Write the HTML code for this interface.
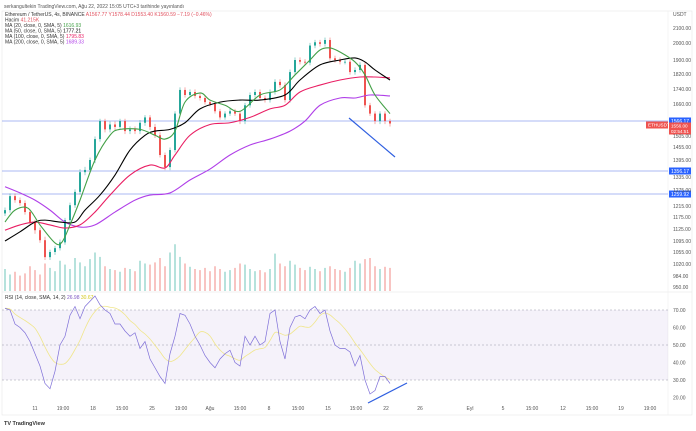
<!DOCTYPE html>
<html><head><meta charset="utf-8">
<style>
html,body{margin:0;padding:0;background:#fff;width:696px;height:431px;overflow:hidden;font-family:"Liberation Sans",sans-serif}
svg text{font-family:"Liberation Sans",sans-serif}
</style></head>
<body>
<svg id="c" width="696" height="431" viewBox="0 0 696 431" xmlns="http://www.w3.org/2000/svg">
<text x="4" y="8" font-size="5" fill="#555">serkangultekin TradingView.com, Ağu 22, 2022 15:05 UTC+3 tarihinde yayınlandı</text>
<rect x="2" y="11" width="690" height="404" fill="none" stroke="#e6e6e6" stroke-width="0.6"/>
<line x1="668" y1="11" x2="668" y2="415" stroke="#eee" stroke-width="0.6"/>
<line x1="2" y1="292" x2="692" y2="292" stroke="#e6e6e6" stroke-width="0.6"/>
<g id="grid"></g>
<g id="rsiPane"></g>
<g id="vol"></g>
<g id="hlines"></g>
<g id="candles"></g>
<g id="mas"></g>
<g id="rsi"></g>
<g id="axes"></g>
<line x1="349" y1="118" x2="395" y2="157" stroke="#2f5fe0" stroke-width="1.2"/>
<line x1="368" y1="403" x2="407" y2="383" stroke="#2f5fe0" stroke-width="1.2"/>
<g font-size="5">
<text x="5" y="16" fill="#333">Ethereum / TetherUS, 4s, BINANCE <tspan fill="#e0505e">A1567.77 Y1578.44 D1553.40 K1560.59 −7.19 (−0.46%)</tspan></text>
<text x="5" y="21.5" fill="#333">Hacim <tspan fill="#e0505e">41.215K</tspan></text>
<text x="5" y="27" fill="#333">MA (20, close, 0, SMA, 5) <tspan fill="#43a047">1616.93</tspan></text>
<text x="5" y="32.5" fill="#333">MA (50, close, 0, SMA, 5) <tspan fill="#000">1777.21</tspan></text>
<text x="5" y="38" fill="#333">MA (100, close, 0, SMA, 5) <tspan fill="#e91e63">1795.83</tspan></text>
<text x="5" y="43.5" fill="#333">MA (200, close, 0, SMA, 5) <tspan fill="#b03fe8">1689.33</tspan></text>
<text x="5" y="299" fill="#333">RSI (14, close, SMA, 14, 2) <tspan fill="#7e57c2">26.98</tspan> <tspan fill="#d4c81a">30.67</tspan></text>
</g>
<text x="673" y="16" font-size="5" fill="#555">USDT</text>
<text x="4" y="425" font-size="5.5" fill="#333" font-weight="bold">TV TradingView</text>
</svg>
<script>
// ---- data ----
const closes=[1200,1252,1237,1226,1193,1154,1122,1097,1040,1055,1069,1090,1162,1218,1268,1352,1360,1395,1491,1566,1532,1552,1542,1566,1525,1532,1525,1559,1586,1542,1508,1418,1370,1441,1607,1735,1708,1724,1703,1692,1670,1660,1620,1586,1607,1620,1607,1566,1653,1708,1724,1692,1681,1724,1778,1761,1681,1831,1900,1890,1885,1985,2005,1995,2020,1910,1900,1890,1890,1831,1843,1872,1653,1607,1566,1607,1566,1556];
const volumes=[40,30,35,28,32,45,38,30,50,42,36,55,48,40,60,52,45,58,70,62,45,40,38,35,42,40,36,55,50,48,52,60,45,70,85,62,50,44,40,38,42,36,45,40,35,38,42,50,48,40,36,38,34,40,68,50,45,55,48,42,38,44,40,36,42,45,40,38,35,42,55,50,58,60,45,40,44,42];
const rsiVals=[71,70,62,60,57,52,45,38,28,25,35,50,55,67,72,65,72,75,78,73,70,68,62,62,58,55,57,48,52,42,37,32,28,45,55,68,67,62,55,50,44,40,37,42,45,47,40,38,55,50,55,50,52,68,70,52,42,60,66,67,65,70,72,68,70,58,50,48,48,46,38,44,30,22,24,32,32,28];
const ma20T=[0,2,4.6,7,10,11.4,13,15,18,21,23,27,30,32,34,36,39,41,44,47,51,55,58,61,63,65,67,70,72,74,77];
const ma20V=[1154,1200,1207,1142,1088,1091,1142,1237,1395,1508,1532,1532,1508,1491,1525,1670,1719,1681,1653,1620,1708,1735,1815,1900,1959,1971,1947,1889,1815,1708,1607];
const ma50T=[0,3,6,8,11,14,16,19,22,25,28,30,33,36,39,43,47,51,56,59,63,67,70,72,74,77];
const ma50V=[1095,1118,1154,1162,1154,1154,1200,1256,1342,1441,1508,1525,1532,1559,1633,1670,1681,1681,1708,1788,1872,1900,1912,1889,1843,1788];
const ma100T=[0,3,6,9,12,15,18,21,25,29,32,34,37,41,45,49,53,56,59,63,67,71,74,77];
const ma100V=[1122,1142,1154,1142,1129,1142,1193,1256,1342,1377,1367,1418,1508,1552,1559,1586,1633,1653,1724,1761,1788,1804,1804,1799];
const ma200T=[0,3,6,9,12,15,18,22,26,29,33,37,41,45,49,53,57,60,63,67,70,73,77];
const ma200V=[1290,1264,1237,1200,1154,1133,1142,1193,1237,1256,1264,1321,1363,1418,1464,1491,1525,1566,1653,1692,1692,1708,1703];
const priceTicks=[2100,2000,1900,1820,1740,1660,1505,1455,1395,1335,1275,1215,1175,1125,1095,1055,1020,984,950];
const tickY=[28,43,60,74,89,104,136,147,160,177,190,206,217,229,241,252,264,276,287];
const hLevels=[1566.17,1356.17,1259.92];
const rsiTicks=[70,60,50,40,30,20];
const timeLabels=["11","19:00","18","15:00","25","19:00","Ağu","15:00","8","15:00","15","15:00","22","26","Eyl","5","15:00","12","15:00","19","19:00"];
const timeIdx=[6,11.6,17.6,23.4,29.4,35.2,41,47,52.8,58.6,64.6,70.2,76.2,83,93,99.6,105.4,111.6,117.4,123.2,129];
// ---- scales ----
const allP=[2100,2000,1900,1820,1740,1660,1566.17,1505,1455,1395,1335,1275,1215,1175,1125,1095,1055,1020,984,950];
const allY=[28,43,60,74,89,104,121,136,147,160,177,190,206,217,229,241,252,264,276,287];
function y(p){for(let i=0;i<allP.length-1;i++){if(p<=allP[i]&&p>=allP[i+1]){const f=(allP[i]-p)/(allP[i]-allP[i+1]);return allY[i]+f*(allY[i+1]-allY[i]);}}
 if(p>allP[0])return allY[0]-(p-allP[0])*0.15;return allY[allY.length-1]+(allP[allP.length-1]-p)*0.3;}
function x(t){return 5+t*5;}
function ry(v){return 345-(v-50)*1.75;}
const NS="http://www.w3.org/2000/svg";
function mk(tag,attrs,parent){const e=document.createElementNS(NS,tag);for(const k in attrs)e.setAttribute(k,attrs[k]);document.getElementById(parent).appendChild(e);return e;}
const up="#26a69a",dn="#ef5350";
let r=mk('rect',{x:2,y:ry(70),width:666,height:ry(30)-ry(70),fill:"#7e57c2","fill-opacity":"0.08"},'rsiPane');


[70,50,30].forEach(v=>{const l=mk('line',{x1:2,x2:668,y1:ry(v),y2:ry(v),stroke:"#9a9aa8","stroke-width":0.5,"stroke-dasharray":"2,2"},'rsiPane');

});
rsiTicks.forEach(v=>{const t=mk('text',{x:673,y:ry(v)+2,"font-size":5,fill:"#555"},'axes');t.textContent=v.toFixed(2);

});
priceTicks.forEach((p,i)=>{const t=mk('text',{x:673,y:tickY[i]+2,"font-size":5,fill:"#555"},'axes');t.textContent=p.toFixed(2);

});
timeLabels.forEach((s,i)=>{const t=mk('text',{x:x(timeIdx[i]),y:410,"font-size":5,fill:"#555","text-anchor":"middle"},'axes');t.textContent=s;

});
hLevels.forEach(p=>{const l=mk('line',{x1:2,x2:668,y1:y(p),y2:y(p),stroke:"#8fa3ef","stroke-width":0.8},'hlines');


mk('rect',{x:669,y:y(p)-3.5,width:22,height:7,fill:"#2962ff"},'hlines');
const t=mk('text',{x:671,y:y(p)+1.8,"font-size":5,fill:"#fff"},'hlines');t.textContent=p.toFixed(2);

});
const lp=closes[closes.length-1];
mk('rect',{x:646,y:y(lp)-2,width:22,height:7,fill:"#ef5350"},'hlines');
let tt=mk('text',{x:648,y:y(lp)+3,"font-size":4.6,fill:"#fff"},'hlines');tt.textContent="ETHUSDT";


mk('rect',{x:669,y:y(lp)-1,width:22,height:12,fill:"#ef5350"},'hlines');
tt=mk('text',{x:671,y:y(lp)+4,"font-size":4.6,fill:"#fff"},'hlines');tt.textContent=lp.toFixed(2);


tt=mk('text',{x:671,y:y(lp)+9.5,"font-size":4.6,fill:"#fff"},'hlines');tt.textContent="02:54:51";


closes.forEach((c,i)=>{const o=i?closes[i-1]:c*0.99;const hi=Math.max(o,c)*1.008,lo=Math.min(o,c)*0.992;const col=c>=o?up:dn;
const w=mk('line',{x1:x(i),x2:x(i),y1:y(hi),y2:y(lo),stroke:col,"stroke-width":0.5},'candles');


const b=mk('rect',{x:x(i)-1,y:Math.min(y(o),y(c)),width:2,height:Math.max(0.8,Math.abs(y(o)-y(c))),fill:col},'candles');


const v=mk('rect',{x:x(i)-1,y:291-volumes[i]*0.55,width:2,height:volumes[i]*0.55,fill:c>=o?"#b6e2dc":"#f8c4c2"},'vol');

});
function smooth(pts){let d="M"+pts[0][0]+","+pts[0][1];for(let i=1;i<pts.length;i++){const p0=pts[Math.max(0,i-2)],p1=pts[i-1],p2=pts[i],p3=pts[Math.min(pts.length-1,i+1)];
const c1=[p1[0]+(p2[0]-p0[0])/6,p1[1]+(p2[1]-p0[1])/6],c2=[p2[0]-(p3[0]-p1[0])/6,p2[1]-(p3[1]-p1[1])/6];d+=" C"+c1+" "+c2+" "+p2;}return d;}
[[ma200T,ma200V,"#b03fe8","ma-200-line"],[ma100T,ma100V,"#e91e63","ma-100-line"],[ma50T,ma50V,"#000","ma-50-line"],[ma20T,ma20V,"#43a047","ma-20-line"]].forEach(([T,V,col,name])=>{
const p=mk('path',{d:smooth(T.map((t,i)=>[x(t),y(V[i])])),fill:"none",stroke:col,"stroke-width":1.1},'mas');

});
const rsiMa=rsiVals.map((v,i)=>{const s=rsiVals.slice(Math.max(0,i-6),i+1);return s.reduce((a,b)=>a+b,0)/s.length;});
let p=mk('path',{d:smooth(rsiMa.map((v,i)=>[x(i),ry(v)])),fill:"none",stroke:"#f0e68c","stroke-width":0.8},'rsi');


p=mk('polyline',{points:rsiVals.map((v,i)=>x(i)+","+ry(v)).join(" "),fill:"none",stroke:"#7e6fd8","stroke-width":0.7},'rsi');


</script>
</body></html>
